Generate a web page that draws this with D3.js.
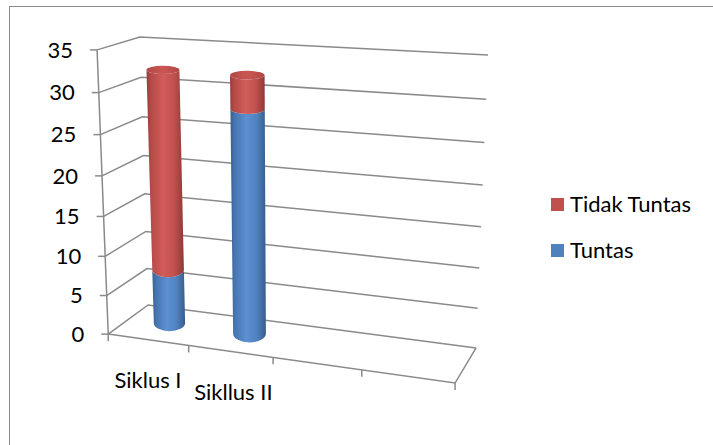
<!DOCTYPE html>
<html>
<head>
<meta charset="utf-8">
<script src="https://cdn.jsdelivr.net/npm/d3@7/dist/d3.min.js"></script>
<style>
  html, body { margin: 0; padding: 0; background: #fff; }
  svg { display: block; }
  text { font-family: Lato, "Open Sans", sans-serif; fill: #000; }
</style>
</head>
<body>
<svg id="chart" width="713" height="445"></svg>
<script>
// ---------------- data ----------------
const categories = ["Siklus I", "Sikllus II", "", ""];
const tuntas = [7, 28];
const tidakTuntas = [25, 4];
const seriesNames = ["Tidak Tuntas", "Tuntas"];
const yTicks = [0, 5, 10, 15, 20, 25, 30, 35];

// ---------------- layout ----------------
const W = 713, H = 445;
const svg = d3.select("#chart");
const gridColor = "#8a8a8a";
const fontSize = 22;

// scales (normalised 3D space: X across categories, Y value, Z depth 0=front 1=back)
const x = d3.scaleBand().domain(d3.range(categories.length)).range([0, 1]);
const y = d3.scaleLinear().domain([0, 35]).range([0, 1]);

// camera fitted to the plot box corners (perspective projection)
const refs = [
  [0, 0, 0, 108, 334],
  [0, 1, 0, 97, 50],
  [0, 1, 1, 140, 37],
  [1, 1, 1, 488, 55],
  [1, 0, 1, 476, 348],
  [1, 0, 0, 455, 383],
  [0.25, 0, 0, 189, 345.5],
  [0.5, 0, 0, 273, 357.3],
  [0.75, 0, 0, 362, 369.9]
];
function fit(pts) {
  const A = [], b = [];
  pts.forEach(([X, Y, Z, u, v]) => {
    A.push([X, Y, Z, 1, 0, 0, 0, 0, -u * X, -u * Y, -u * Z]); b.push(u);
    A.push([0, 0, 0, 0, X, Y, Z, 1, -v * X, -v * Y, -v * Z]); b.push(v);
  });
  const n = 11;
  const M = d3.range(n).map(() => new Array(n + 1).fill(0));
  A.forEach((row, r) => {
    for (let i = 0; i < n; i++) {
      for (let j = 0; j < n; j++) M[i][j] += row[i] * row[j];
      M[i][n] += row[i] * b[r];
    }
  });
  for (let c = 0; c < n; c++) {
    let p = c;
    for (let r = c + 1; r < n; r++) if (Math.abs(M[r][c]) > Math.abs(M[p][c])) p = r;
    [M[c], M[p]] = [M[p], M[c]];
    for (let r = 0; r < n; r++) {
      if (r === c) continue;
      const f = M[r][c] / M[c][c];
      for (let k = c; k <= n; k++) M[r][k] -= f * M[c][k];
    }
  }
  return M.map((row, i) => row[n] / row[i]);
}
const P = fit(refs);
function proj(X, Y, Z) {
  const w = P[8] * X + P[9] * Y + P[10] * Z + 1;
  return [(P[0] * X + P[1] * Y + P[2] * Z + P[3]) / w,
          (P[4] * X + P[5] * Y + P[6] * Z + P[7]) / w];
}

// ---------------- frame ----------------
svg.append("rect").attr("x", 9.5).attr("y", 6.5).attr("width", W + 20).attr("height", H + 20)
  .attr("fill", "#fff").attr("stroke", "#8a8a8a").attr("stroke-width", 1);

// ---------------- walls / gridlines ----------------
const g = svg.append("g").attr("fill", "none").attr("stroke", gridColor).attr("stroke-width", 1.5);
const line = d3.line();
yTicks.forEach(t => {
  const v = y(t);
  g.append("path").attr("d", line([proj(0, v, 0), proj(0, v, 1), proj(1, v, 1)]));
  const p = proj(0, v, 0);
  g.append("path").attr("d", line([[p[0] - 7, p[1]], p]));
});
g.append("path").attr("d", line([proj(0, 0, 0), proj(0, 1, 0)]));
g.append("path").attr("d", line([proj(0, 0, 0), proj(1, 0, 0), proj(1, 0, 1)]));
d3.range(categories.length + 1).forEach(i => {
  const p = proj(i / categories.length, 0, 0);
  g.append("path").attr("d", line([p, [p[0], p[1] + 7]]));
});

// y tick labels
yTicks.forEach(t => {
  const p = proj(0, y(t), 0);
  svg.append("text").attr("x", p[0] - 24).attr("y", p[1]).attr("dy", "0.35em")
    .attr("text-anchor", "end").attr("font-size", fontSize).text(t);
});

// category labels
categories.forEach((c, i) => {
  const p = proj(x(i) + x.bandwidth() / 2, 0, 0);
  svg.append("text").attr("x", p[0] + (i === 1 ? 3 : 0)).attr("y", p[1] + 41).attr("dy", "0.35em")
    .attr("text-anchor", "middle").attr("font-size", fontSize).text(c);
});

// ---------------- gradients ----------------
const defs = svg.append("defs");
function grad(id, stops) {
  const lg = defs.append("linearGradient").attr("id", id).attr("x1", 0).attr("x2", 1).attr("y1", 0).attr("y2", 0);
  stops.forEach(([o, c]) => lg.append("stop").attr("offset", o).attr("stop-color", c));
}
grad("redSide", [[0, "#943d3b"], [0.12, "#b44a47"], [0.45, "#d25c59"], [0.75, "#c0504d"], [1, "#8c3937"]]);
grad("blueSide", [[0, "#385f90"], [0.12, "#4675b0"], [0.45, "#5d90d2"], [0.75, "#4f81bd"], [1, "#375c8b"]]);
grad("redTop", [[0, "#b04845"], [0.5, "#cb5653"], [1, "#b04845"]]);
grad("blueTop", [[0, "#416da3"], [0.5, "#5a8cc9"], [1, "#416da3"]]);

// ---------------- cylinders ----------------
const zc = 0.55, rX = x.bandwidth() * 0.2, rZ = 0.28;
function ellipse(i, val) {
  const cX = x(i) + x.bandwidth() / 2, v = y(val);
  const L = proj(cX - rX, v, zc), R = proj(cX + rX, v, zc);
  const F = proj(cX, v, zc - rZ), B = proj(cX, v, zc + rZ);
  return { cx: (L[0] + R[0]) / 2, cy: (L[1] + R[1]) / 2, rx: (R[0] - L[0]) / 2, ry: Math.abs(F[1] - B[1]) / 2 };
}
function sidePath(e0, e1) {
  return `M${e0.cx - e0.rx},${e0.cy}` +
    `A${e0.rx},${e0.ry} 0 0 0 ${e0.cx + e0.rx},${e0.cy}` +
    `L${e1.cx + e1.rx},${e1.cy}` +
    `A${e1.rx},${e1.ry} 0 0 1 ${e1.cx - e1.rx},${e1.cy}Z`;
}
const cyl = svg.append("g");
tuntas.forEach((tv, i) => {
  const segs = [
    { from: 0, to: tv, side: "url(#blueSide)", top: "url(#blueTop)" },
    { from: tv, to: tv + tidakTuntas[i], side: "url(#redSide)", top: "url(#redTop)" }
  ];
  segs.forEach((s, k) => {
    const e0 = ellipse(i, s.from), e1 = ellipse(i, s.to);
    cyl.append("path").attr("d", sidePath(e0, e1)).attr("fill", s.side);
    if (k === segs.length - 1) {
      cyl.append("ellipse").attr("cx", e1.cx).attr("cy", e1.cy).attr("rx", e1.rx).attr("ry", e1.ry)
        .attr("fill", s.top);
    }
  });
});

// ---------------- legend ----------------
const legendColors = ["#c0504d", "#4f81bd"];
seriesNames.forEach((s, k) => {
  const ly = 198 + k * 46;
  svg.append("rect").attr("x", 551).attr("y", ly).attr("width", 13).attr("height", 13).attr("fill", legendColors[k]);
  svg.append("text").attr("x", 570).attr("y", ly + 6.5).attr("dy", "0.35em").attr("font-size", fontSize).text(s);
});
</script>
</body>
</html>
